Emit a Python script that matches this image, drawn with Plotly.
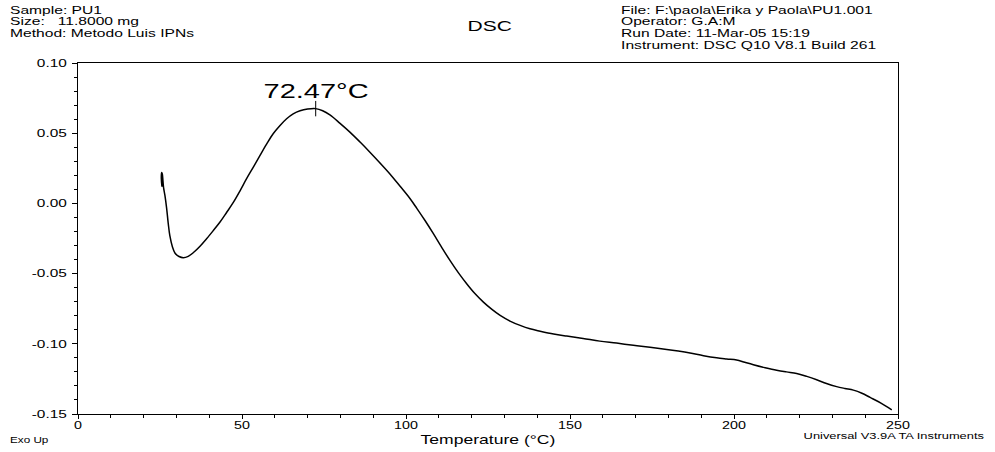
import json
import plotly.graph_objects as go

# DSC scan of sample PU1: temperature (°C) vs heat flow
temperature = [25.6, 25.4, 25.5, 25.7, 25.9, 26.1, 26.5, 27.0, 27.5, 28.0, 28.8, 29.6, 30.8,
               32.1, 33.6, 35.2, 37.2, 39.2, 41.2, 43.3, 45.3, 47.4, 49.4, 51.4, 53.5,
               55.5, 57.5, 59.5, 61.6, 63.6, 65.6, 67.7, 70.0, 72.47, 74.6, 76.8, 79.8,
               82.9, 86.0, 89.0, 92.0, 95.1, 98.2, 101.2, 103.3, 105.8, 108.3, 110.8,
               113.4, 116.0, 118.5, 121.0, 123.6, 126.2, 128.7, 131.7, 134.8, 137.8,
               140.9, 145.0, 149.0, 154.0, 159.1, 164.2, 169.3, 174.4, 179.5, 183.0,
               186.6, 190.7, 194.7, 197.8, 200.8, 203.3, 205.9, 209.5, 213.0, 216.0,
               219.1, 222.2, 225.2, 228.2, 231.3, 233.8, 236.4, 239.0, 241.5, 244.8,
               248.1]
heat_flow = [0.012, 0.018, 0.022, 0.021, 0.016, 0.011, 0.0057, -0.0030, -0.0140, -0.0230,
             -0.0310, -0.0355, -0.0378, -0.0387, -0.0377, -0.0350, -0.0305, -0.0252,
             -0.0195, -0.0133, -0.0065, 0.0009, 0.0090, 0.0176, 0.0260, 0.0342, 0.0422,
             0.0496, 0.0555, 0.0603, 0.0638, 0.0660, 0.0672, 0.0675, 0.0660, 0.0630,
             0.0572, 0.0508, 0.0437, 0.0365, 0.0290, 0.0210, 0.0122, 0.0035, -0.0035,
             -0.0122, -0.0214, -0.0310, -0.0406, -0.0495, -0.0572, -0.0642, -0.0703,
             -0.0755, -0.0798, -0.0838, -0.0869, -0.0893, -0.0910, -0.0930, -0.0945,
             -0.0962, -0.0981, -0.0995, -0.1011, -0.1025, -0.1040, -0.1052, -0.1066,
             -0.1085, -0.1100, -0.1108, -0.1115, -0.1132, -0.1149, -0.1170, -0.1188,
             -0.1200, -0.1211, -0.1232, -0.1256, -0.1283, -0.1305, -0.1318, -0.1330,
             -0.1352, -0.1382, -0.1422, -0.1470]

peak_temp = 72.47
peak_flow = 0.0675
peak_label = "72.47°C"

x_ticks = [0, 50, 100, 150, 200, 250]
y_ticks = [-0.15, -0.10, -0.05, 0.00, 0.05, 0.10]

header_left = ["Sample: PU1", "Size:   11.8000 mg", "Method: Metodo Luis IPNs"]
header_right = ["File: F:\\paola\\Erika y Paola\\PU1.001", "Operator: G.A:M",
                "Run Date: 11-Mar-05 15:19", "Instrument: DSC Q10 V8.1 Build 261"]

FONT = "Arial, Liberation Sans, sans-serif"
W, H = 995, 452
ML, MR, MT, MB = 78, 97, 63, 38
PW, PH = W - ML - MR, H - MT - MB

fig = go.Figure()
fig.add_trace(go.Scatter(
    x=temperature, y=heat_flow, mode="lines",
    line=dict(color="black", width=1.5, shape="spline", smoothing=1.0),
    showlegend=False, hoverinfo="skip",
))
# peak marker
fig.add_trace(go.Scatter(
    x=[peak_temp], y=[peak_flow], mode="markers",
    marker=dict(symbol="line-ns", size=11, line=dict(color="black", width=1)),
    showlegend=False, hoverinfo="skip",
))

axis_common = dict(
    showgrid=False, zeroline=False, showline=True, linecolor="black", linewidth=1,
    mirror=True, ticks="outside", tickcolor="black", tickwidth=1,
    tickfont=dict(family=FONT, size=11, color="black"),
)

fig.update_layout(
    width=W, height=H,
    margin=dict(l=ML, r=MR, t=MT, b=MB),
    paper_bgcolor="white", plot_bgcolor="white",
    font=dict(family=FONT, color="black"),
    xaxis=dict(range=[0, 250], tickvals=x_ticks, ticktext=[str(v) for v in x_ticks],
               ticklen=4, ticklabelstandoff=-3,
               minor=dict(dtick=10, ticks="outside", ticklen=3, tickcolor="black"),
               **axis_common),
    yaxis=dict(range=[-0.15, 0.10], tickvals=y_ticks,
               ticktext=[f"{v:.2f}" for v in y_ticks],
               ticklen=5, ticklabelstandoff=3,
               minor=dict(dtick=0.01, ticks="outside", ticklen=3, tickcolor="black"),
               **axis_common),
)

# horizontal stretch applied to each annotation's text (the instrument
# software draws its lettering wide), with the edge it is pinned to
stretch = []


def page_text(text, px, py, size, xanchor="left", sx=1.42):
    """Text placed by page pixel position (py = vertical centre)."""
    stretch.append([sx, xanchor])
    return dict(text=text, showarrow=False, xref="paper", yref="paper",
                x=(px - ML) / PW, y=(H - MB - py) / PH,
                xanchor=xanchor, yanchor="middle",
                font=dict(size=size, family=FONT, color="black"))


ann = [dict(x=peak_temp, y=peak_flow, xref="x", yref="y", text=peak_label,
            showarrow=False, yshift=18, font=dict(size=21, family=FONT, color="black"))]
stretch.append([1.38, "center"])
ann.append(page_text("DSC", 490, 26, 14, "center", 1.5))
ann.append(page_text("Temperature (°C)", 488, 440, 13, "center", 1.35))
ann.append(page_text("Exo Up", 8, 440, 9, "left", 1.3))
ann.append(page_text("Universal V3.9A TA Instruments", 987, 436, 9, "right", 1.43))
for i, line in enumerate(header_left):
    ann.append(page_text(line, 8, 10 + 11.5 * i, 11))
for i, line in enumerate(header_right):
    ann.append(page_text(line, 619, 10 + 11.5 * i, 11))

fig.update_layout(annotations=ann)

post = """
var gd = document.getElementById('{plot_id}');
var stretch = %s;
function widen(el, sx, edge) {
  var bb = el.getBBox();
  var cx = edge === 'right' || edge === 'end' ? bb.x + bb.width :
           (edge === 'center' || edge === 'middle' ? bb.x + bb.width / 2 : bb.x);
  var t = el.getAttribute('transform') || '';
  el.setAttribute('transform', t + ' translate(' + cx + ',0) scale(' + sx + ',1) translate(' + (-cx) + ',0)');
}
gd.querySelectorAll('g.annotation').forEach(function (g) {
  var i = +g.getAttribute('data-index');
  var txt = g.querySelector('text.annotation-text');
  if (txt && stretch[i]) { widen(txt, stretch[i][0], stretch[i][1]); }
});
gd.querySelectorAll('g.xtick text').forEach(function (el) { widen(el, 1.3, 'middle'); });
gd.querySelectorAll('g.ytick text').forEach(function (el) { widen(el, 1.4, 'end'); });
""" % json.dumps(stretch)

fig.write_html("out.html", post_script=post)
